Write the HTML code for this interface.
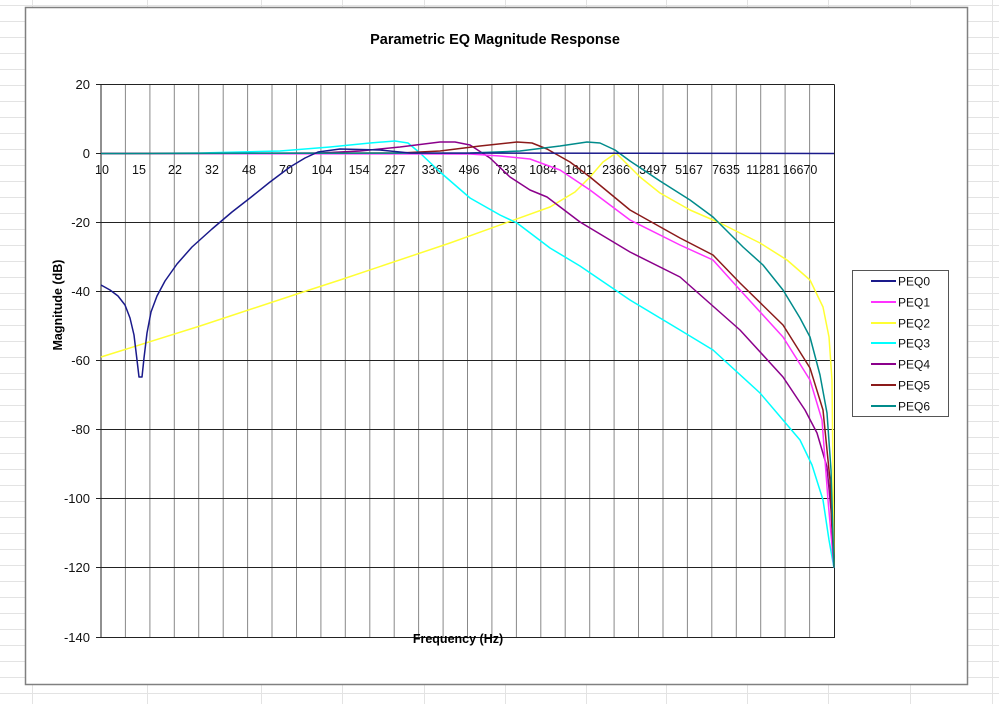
<!DOCTYPE html>
<html><head><style>
html,body{margin:0;padding:0;background:#fff;}
svg{display:block;font-family:"Liberation Sans",Arial,sans-serif;}
</style></head><body>
<svg width="999" height="704" viewBox="0 0 999 704" xmlns="http://www.w3.org/2000/svg">
<g stroke="#e3e3e3" stroke-width="1">
<path d="M0 5.5H999M0 21.5H999M0 37.5H999M0 53.5H999M0 69.5H999M0 85.5H999M0 101.5H999M0 117.5H999M0 133.5H999M0 149.5H999M0 165.5H999M0 181.5H999M0 197.5H999M0 213.5H999M0 229.5H999M0 245.5H999M0 261.5H999M0 277.5H999M0 293.5H999M0 309.5H999M0 325.5H999M0 341.5H999M0 357.5H999M0 373.5H999M0 389.5H999M0 405.5H999M0 421.5H999M0 437.5H999M0 453.5H999M0 469.5H999M0 485.5H999M0 501.5H999M0 517.5H999M0 533.5H999M0 549.5H999M0 565.5H999M0 581.5H999M0 597.5H999M0 613.5H999M0 629.5H999M0 645.5H999M0 661.5H999M0 677.5H999M0 693.5H999"/>
<path d="M32.5 0V704M147.5 0V704M261.5 0V704M342.5 0V704M424.5 0V704M505.5 0V704M586.5 0V704M666.5 0V704M747.5 0V704M828.5 0V704M910.5 0V704M992.5 0V704"/>
</g>
<rect x="25.5" y="7.5" width="942" height="677" fill="#fff" stroke="#808080" stroke-width="1.5"/>
<text x="495" y="44" font-size="14.5" font-weight="bold" text-anchor="middle">Parametric EQ Magnitude Response</text>
<!-- vertical grid -->
<g stroke="#888" stroke-width="1">
<path d="M125.4 84.5V638M149.9 84.5V638M174.3 84.5V638M198.7 84.5V638M223.2 84.5V638M247.6 84.5V638M272 84.5V638M296.5 84.5V638M320.9 84.5V638M345.3 84.5V638M369.8 84.5V638M394.2 84.5V638M418.6 84.5V638M443.1 84.5V638M467.5 84.5V638M491.9 84.5V638M516.4 84.5V638M540.8 84.5V638M565.2 84.5V638M589.7 84.5V638M614.1 84.5V638M638.5 84.5V638M663 84.5V638M687.4 84.5V638M711.8 84.5V638M736.3 84.5V638M760.7 84.5V638M785.1 84.5V638M809.6 84.5V638"/>
</g>
<g stroke="#222" stroke-width="1">
<path d="M101 84.5H834.5M101 222.5H834.5M101 291.5H834.5M101 360.5H834.5M101 429.5H834.5M101 498.5H834.5M101 567.5H834.5M101 637.5H834.5"/>
<path d="M101 84.5V638M834.5 84.5V638"/>
<path d="M96 84.5H101M96 153.5H101M96 222.5H101M96 291.5H101M96 360.5H101M96 429.5H101M96 498.5H101M96 567.5H101M96 637.5H101"/>
</g>
<g font-size="13" text-anchor="end" fill="#111">
<text x="90" y="89">20</text><text x="90" y="158">0</text><text x="90" y="227">-20</text><text x="90" y="296">-40</text><text x="90" y="365">-60</text><text x="90" y="434">-80</text><text x="90" y="503">-100</text><text x="90" y="572">-120</text><text x="90" y="642">-140</text>
</g>
<g font-size="12.5" text-anchor="middle" fill="#111">
<text x="102" y="174">10</text><text x="139" y="174">15</text><text x="175" y="174">22</text><text x="212" y="174">32</text><text x="249" y="174">48</text><text x="286" y="174">70</text><text x="322" y="174">104</text><text x="359" y="174">154</text><text x="395" y="174">227</text><text x="432" y="174">336</text><text x="469" y="174">496</text><text x="506" y="174">733</text><text x="543" y="174">1084</text><text x="579" y="174">1601</text><text x="616" y="174">2366</text><text x="653" y="174">3497</text><text x="689" y="174">5167</text><text x="726" y="174">7635</text><text x="763" y="174">11281</text><text x="800" y="174">16670</text>
</g>
<text x="458" y="643" font-size="12.5" font-weight="bold" text-anchor="middle">Frequency (Hz)</text>
<text transform="translate(62,305) rotate(-90)" font-size="12.5" font-weight="bold" text-anchor="middle">Magnitude (dB)</text>
<g fill="none" stroke-width="1.5" stroke-linejoin="round">
<polyline stroke="#ffff33" points="101,357 200,326 300,293 340,280 450,243 550,207 575,192 590,177 603,162 616,153 628,165 640,177 660,193 690,210 720,223 760,243 787,260 810,280 823,307 829,337 832,380 834,568"/>
<polyline stroke="#00ffff" points="101,153.5 200,153 280,151 330,147 370,143 395,141 408,143 420,153 440,172 470,198 500,215 517,223 550,248 580,266 630,300 680,330 713,350 760,393 783,420 800,440 812,465 823,500 829,540 834,568"/>
<polyline stroke="#8b008b" points="101,153.5 320,153 360,151 400,147 440,142 455,142 470,145 490,158 510,177 530,190 547,197 580,222 630,252 680,277 740,330 783,377 805,410 817,433 827,467 831,510 834,568"/>
<polyline stroke="#ff33ff" points="101,153.5 470,154 500,156 530,159 560,170 590,190 630,220 680,245 713,260 740,290 783,337 810,380 822,420 828,500 834,568"/>
<polyline stroke="#8b1a1a" points="101,153.5 400,153 440,151 480,146 517,142 532,143 547,149 570,162 590,177 630,210 680,238 713,255 740,283 783,325 810,368 823,410 830,480 834,568"/>
<polyline stroke="#008b8b" points="101,153.5 470,153 520,151 560,146 587,142 600,143 615,150 630,161 660,181 690,200 713,217 743,247 763,265 783,290 800,318 810,337 820,375 827,413 831,470 834,568"/>
<polyline stroke="#1a1a8b" points="101,285 110,290 118,296 125,305 130,318 134,335 137,360 139,377 142,377 144,358 147,333 151,312 157,296 165,281 177,264 192,247 212,229 232,212 250,198 270,182 290,167 305,158 318,152 340,149 380,150 410,153 834,153.5"/>
</g>
<rect x="852.5" y="270.5" width="96" height="146" fill="#fff" stroke="#555" stroke-width="1"/>
<g stroke-width="2">
<line x1="871" y1="281" x2="896" y2="281" stroke="#1a1a8b"/>
<line x1="871" y1="302" x2="896" y2="302" stroke="#ff33ff"/>
<line x1="871" y1="323" x2="896" y2="323" stroke="#ffff33"/>
<line x1="871" y1="343" x2="896" y2="343" stroke="#00ffff"/>
<line x1="871" y1="364" x2="896" y2="364" stroke="#8b008b"/>
<line x1="871" y1="385" x2="896" y2="385" stroke="#8b1a1a"/>
<line x1="871" y1="406" x2="896" y2="406" stroke="#008b8b"/>
</g>
<g font-size="12" fill="#111">
<text x="898" y="285.5">PEQ0</text><text x="898" y="306.5">PEQ1</text><text x="898" y="327.5">PEQ2</text><text x="898" y="347.5">PEQ3</text><text x="898" y="368.5">PEQ4</text><text x="898" y="389.5">PEQ5</text><text x="898" y="410.5">PEQ6</text>
</g>
</svg>
</body></html>
